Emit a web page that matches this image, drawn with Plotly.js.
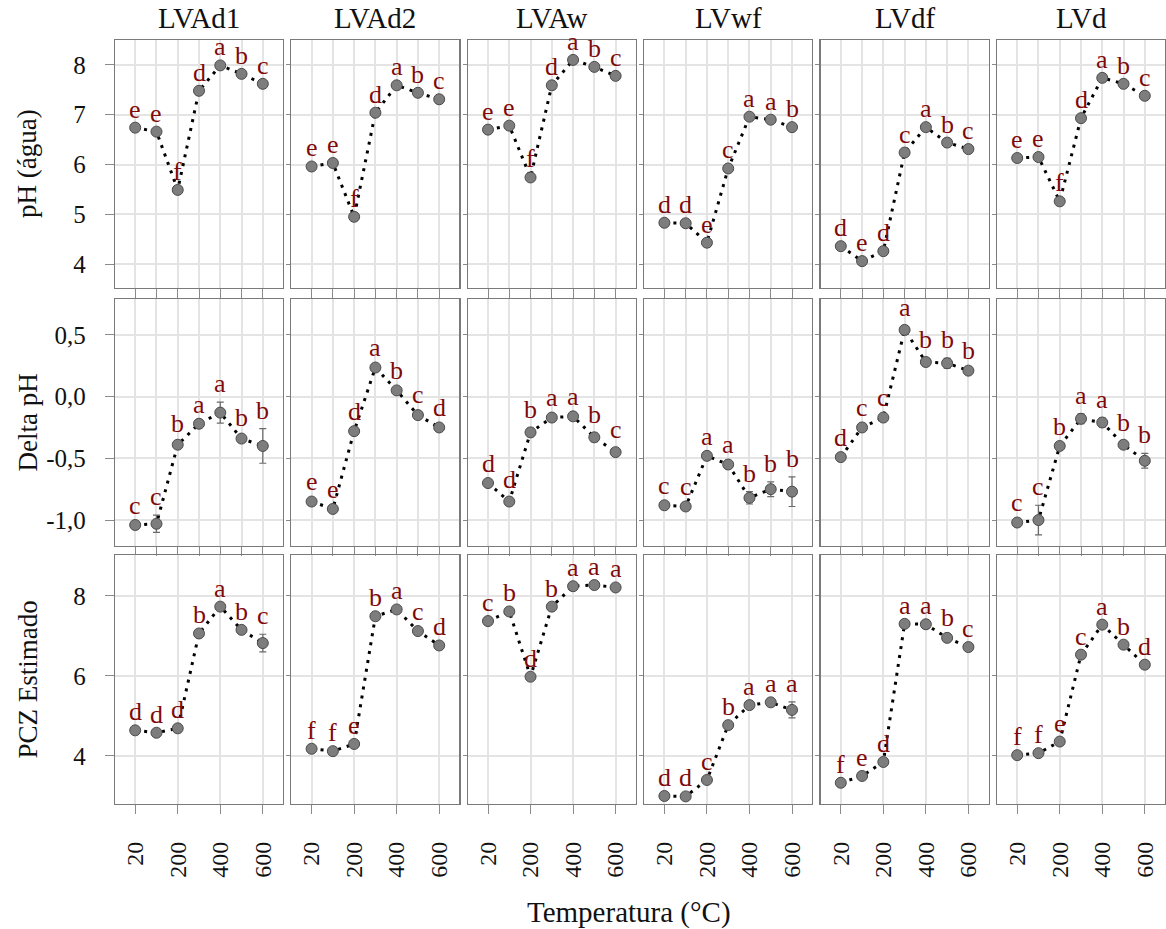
<!DOCTYPE html>
<html>
<head>
<meta charset="utf-8">
<script src="https://cdn.plot.ly/plotly-3.0.1.min.js"></script>
<style>html,body{margin:0;padding:0;background:#fff;}#chart{width:1166px;height:929px;}</style>
</head>
<body>
<div id="chart"></div>
<script>
// ---------- data ----------
const temps = ['20','100','200','300','400','500','600'];
const soils = ['LVAd1','LVAd2','LVAw','LVwf','LVdf','LVd'];
const rowTitles = ['pH (água)','Delta pH','PCZ Estimado'];
const xTitle = 'Temperatura (°C)';

const phAgua = [
  [6.74,6.66,5.49,7.48,7.99,7.82,7.62],
  [5.96,6.03,4.95,7.04,7.59,7.44,7.31],
  [6.70,6.78,5.74,7.59,8.10,7.96,7.78],
  [4.83,4.82,4.43,5.92,6.96,6.90,6.75],
  [4.36,4.06,4.26,6.24,6.75,6.44,6.31],
  [6.13,6.15,5.26,6.93,7.74,7.62,7.38]
];
const phAguaErr = [
  [0,0,0,0,0,0,0],[0,0,0,0,0,0,0],[0,0,0,0,0,0,0],
  [0,0,0,0,0,0,0],[0,0,0,0,0,0,0],[0,0,0,0,0,0,0]
];
const phAguaLetters = [
  ['e','e','f','d','a','b','c'],
  ['e','e','f','d','a','b','c'],
  ['e','e','f','d','a','b','c'],
  ['d','d','e','c','a','a','b'],
  ['d','e','d','c','a','b','c'],
  ['e','e','f','d','a','b','c']
];

const deltaPH = [
  [-1.04,-1.03,-0.39,-0.22,-0.13,-0.34,-0.40],
  [-0.85,-0.91,-0.28,0.235,0.05,-0.15,-0.25],
  [-0.70,-0.85,-0.29,-0.17,-0.16,-0.33,-0.45],
  [-0.88,-0.89,-0.48,-0.55,-0.82,-0.75,-0.77],
  [-0.49,-0.25,-0.17,0.54,0.28,0.27,0.21],
  [-1.02,-1.00,-0.40,-0.18,-0.21,-0.39,-0.52]
];
const deltaPHErr = [
  [0.01,0.07,0.02,0.01,0.085,0.02,0.14],
  [0.01,0.01,0.01,0.01,0.01,0.02,0.01],
  [0.01,0.03,0.035,0.01,0.01,0.035,0.03],
  [0.01,0.01,0.01,0.01,0.05,0.06,0.12],
  [0.01,0.01,0.01,0.035,0.03,0.04,0.01],
  [0.01,0.12,0.01,0.04,0.035,0.03,0.06]
];
const deltaPHLetters = [
  ['c','c','b','a','a','b','b'],
  ['e','e','d','a','b','c','d'],
  ['d','d','b','a','a','b','c'],
  ['c','c','a','a','b','b','b'],
  ['d','c','c','a','b','b','b'],
  ['c','c','b','a','a','b','b']
];

const pcz = [
  [4.64,4.58,4.69,7.06,7.73,7.15,6.82],
  [4.18,4.12,4.30,7.49,7.66,7.12,6.76],
  [7.37,7.61,5.98,7.73,8.24,8.27,8.21],
  [3.00,2.99,3.40,4.77,5.27,5.34,5.15],
  [3.33,3.50,3.85,7.30,7.29,6.95,6.72],
  [4.02,4.07,4.36,6.53,7.28,6.78,6.28]
];
const pczErr = [
  [0,0,0,0,0,0,0.22],
  [0,0,0,0,0,0.03,0],
  [0,0,0,0,0,0,0],
  [0,0,0,0,0,0,0.2],
  [0,0,0,0,0,0.05,0],
  [0,0,0,0,0,0,0]
];
const pczLetters = [
  ['d','d','d','b','a','b','c'],
  ['f','f','e','b','a','c','d'],
  ['c','b','d','b','a','a','a'],
  ['d','d','c','b','a','a','a'],
  ['f','e','d','a','a','b','c'],
  ['f','f','e','c','a','b','d']
];

const phTicks = [4,5,6,7,8];
const phTickText = ['4','5','6','7','8'];
const deltaTicks = [-1,-0.5,0,0.5];
const deltaTickText = ['-1,0','-0,5','0,0','0,5'];
const pczTicks = [4,6,8];
const pczTickText = ['4','6','8'];

// ---------- layout geometry ----------
const W = 1166, H = 929;
const FONT = 'Liberation Serif';
const colLeft = 115, colW = 168, colStep = 176.4;
const rowPx = [[40,288],[299,546],[555,804]];

const rows = [
  {vals: phAgua, err: phAguaErr, letters: phAguaLetters, range:[3.52,8.5], tv: phTicks, tt: phTickText},
  {vals: deltaPH, err: deltaPHErr, letters: deltaPHLetters, range:[-1.21,0.79], tv: deltaTicks, tt: deltaTickText},
  {vals: pcz, err: pczErr, letters: pczLetters, range:[2.8,9.02], tv: pczTicks, tt: pczTickText}
];

const traces = [];
const annotations = [];
const layout = {
  width: W, height: H,
  margin: {l:0, r:0, t:0, b:0, pad:0},
  paper_bgcolor: '#ffffff', plot_bgcolor: '#ffffff',
  showlegend: false,
  font: {family: FONT, color: '#111'}
};

for (let r = 0; r < 3; r++) {
  const row = rows[r];
  for (let c = 0; c < 6; c++) {
    const idx = r*6 + c + 1;
    const xa = 'x' + (idx === 1 ? '' : idx);
    const ya = 'y' + (idx === 1 ? '' : idx);
    const xl = colLeft + c*colStep;
    layout['xaxis' + (idx === 1 ? '' : idx)] = {
      domain: [xl/W, (xl+colW)/W], anchor: ya, type: 'category',
      range: [-0.95, 6.95],
      showgrid: true, gridcolor: '#e4e4e4', gridwidth: 2,
      ticks: 'outside', ticklen: 9, tickwidth: 1, tickcolor: '#8a8a8a',
      showticklabels: r === 2, tickangle: -90, ticklabelstandoff: 18,
      tickfont: {family: FONT, size: 24, color: '#111'},
      showline: true, mirror: true, linecolor: '#7a7a7a', linewidth: 1.2,
      zeroline: false, fixedrange: true
    };
    layout['yaxis' + (idx === 1 ? '' : idx)] = {
      domain: [1 - rowPx[r][1]/H, 1 - rowPx[r][0]/H], anchor: xa,
      range: row.range, tickmode: 'array', tickvals: row.tv, ticktext: row.tt,
      showgrid: true, gridcolor: '#e4e4e4', gridwidth: 2,
      ticks: 'outside', ticklen: c === 0 ? 9 : 4, tickwidth: 1, tickcolor: '#8a8a8a',
      showticklabels: c === 0, ticklabelstandoff: 14,
      tickfont: {family: FONT, size: 25, color: '#111'},
      showline: true, mirror: true, linecolor: '#7a7a7a', linewidth: 1.2,
      zeroline: false, fixedrange: true
    };
    const vals = row.vals[c], err = row.err[c], let_ = row.letters[c];
    traces.push({
      type: 'scatter', mode: 'lines', x: temps, y: vals, xaxis: xa, yaxis: ya,
      line: {color: '#000', width: 3, dash: '3px,6px'},
      cliponaxis: false, hoverinfo: 'skip'
    });
    traces.push({
      type: 'scatter', mode: 'markers', x: temps, y: vals, xaxis: xa, yaxis: ya,
      marker: {size: 11, color: '#7d7d7d', line: {color: '#4a4a4a', width: 1}},
      error_y: {type: 'data', array: err, visible: true, color: '#6a6a6a', thickness: 1.2, width: 3.5},
      cliponaxis: false, hoverinfo: 'skip'
    });
    for (let i = 0; i < temps.length; i++) {
      annotations.push({
        xref: xa, yref: ya, x: i, y: vals[i] + err[i],
        text: let_[i], showarrow: false, xanchor: 'center', yanchor: 'bottom', yshift: 2,
        font: {family: FONT, size: 26, color: '#7f0a0a'}
      });
    }
  }
}

// column titles
for (let c = 0; c < 6; c++) {
  const xl = colLeft + c*colStep;
  annotations.push({
    xref: 'paper', yref: 'paper', x: (xl + colW/2)/W, y: 1 - 18/H,
    xanchor: 'center', yanchor: 'middle', showarrow: false,
    text: soils[c], font: {family: FONT, size: 29, color: '#111'}
  });
}
// row titles
for (let r = 0; r < 3; r++) {
  annotations.push({
    xref: 'paper', yref: 'paper', x: 27/W, y: 1 - ((rowPx[r][0]+rowPx[r][1])/2)/H,
    xanchor: 'center', yanchor: 'middle', showarrow: false, textangle: -90,
    text: rowTitles[r], font: {family: FONT, size: 27, color: '#111'}
  });
}
// x title
annotations.push({
  xref: 'paper', yref: 'paper', x: 629.5/W, y: 1 - 912/H,
  xanchor: 'center', yanchor: 'middle', showarrow: false,
  text: xTitle, font: {family: FONT, size: 29, color: '#111'}
});

layout.annotations = annotations;

Plotly.newPlot('chart', traces, layout, {staticPlot: true, displayModeBar: false});
</script>
</body>
</html>
